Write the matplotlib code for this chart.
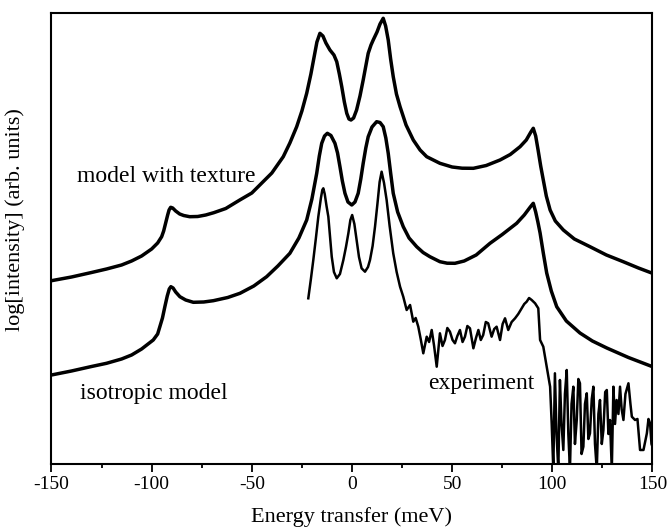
import matplotlib
matplotlib.use("Agg")
import matplotlib.pyplot as plt
from matplotlib.ticker import MultipleLocator

plt.rcParams['font.family'] = ['Liberation Serif', 'DejaVu Serif']

# ---- data (energy in meV, log intensity in arbitrary units) ----
tex_E = [-150, -140, -130, -122.5, -115, -110, -105, -100, -97, -95, -94, -93, -92, -91.3,
         -90.5, -89.5, -88, -86, -84, -81, -77, -73, -69, -63, -56, -50, -46, -40, -34.3,
         -31, -27.6, -25, -22.6, -20.5, -19, -17.5, -16, -14.5, -13, -11, -9, -7.6, -6.3,
         -5.1, -3.8, -2.6, -1.5, -0.5, 0.8, 2.3, 4, 5.6, 7, 8.1, 9.5, 10.6, 12.5, 14, 15.6,
         16.8, 18.1, 19.3, 20.6, 22.2, 24, 27, 30.6, 34, 37.3, 43.9, 50, 55, 60.6, 67, 73.9,
         79, 83.9, 87, 89.3, 90.5, 91.7, 92.9, 94.2, 95.5, 97, 98.9, 101.5, 105.5, 111,
         118.8, 127, 135.4, 143, 150]
tex_I = [183.3, 187, 191.5, 195, 199, 203, 208, 215, 221, 227.3, 233, 241, 249, 254,
         256.7, 256, 253, 250, 248.5, 247.3, 247.5, 249, 251.3, 255.5, 264, 271, 279, 291, 307.3,
         321, 337.3, 353, 370.7, 390, 406, 422, 430.7, 428, 421, 414, 409, 402.3, 390,
         377.3, 362, 350.7, 345, 344, 346, 354, 368, 384, 399, 410.7, 419, 424, 432, 440, 445.7,
         438, 424, 405, 387.3, 370, 357.3, 339, 324, 314, 307.3, 300.7, 297, 295.8, 295.7, 298.5, 304,
         309.5, 317.3, 324, 332, 335.7, 328, 314, 298, 284, 268, 254, 243, 234, 225,
         217.3, 209, 202.3, 196, 190.7]

iso_E = [-150, -140, -130, -122.5, -115, -110, -105, -99.2, -97, -95.9, -94.6, -93.4, -92.2,
         -91.2, -90.4, -89.3, -88, -85.9, -83, -79.2, -74, -69.2, -62, -55.9, -49, -42.6, -37,
         -31, -26.5, -22.6, -20, -17.6, -16.3, -15.1, -13.7, -12.3, -10.5, -8.5, -7.2, -6,
         -4.8, -3.5, -2, -0.1, 1.5, 3.1, 4.4, 5.6, 6.9, 8.1, 10, 12.3, 14, 15.6, 16.9, 18.1,
         19.3, 20.6, 22.8, 25.6, 28.5, 32.3, 35.5, 38.9, 43.9, 47.5, 51.4, 56, 62, 68.9, 75,
         82.2, 86, 89, 90.5, 91.7, 92.8, 93.9, 95.5, 97.2, 99.5, 102.2, 107, 113.8, 120,
         127.2, 138, 150]
iso_I = [89, 93, 97.5, 100.7, 105, 109, 115, 124, 130, 137.3, 146, 157.3, 168,
         175, 177.3, 176, 172, 167.3, 164, 161.7, 162, 163.3, 166.5, 170.7, 178, 187.3, 198,
         210.7, 226, 244, 265, 290.7, 308, 320.7, 328, 330.7, 328.5, 320.7, 311, 297.3,
         283, 270.7, 262, 259, 262, 270.7, 285, 300.7, 316, 327.3, 337, 342.3, 341.5, 337.3, 326, 310.7,
         291, 270.7, 252, 237.3, 226, 217.3, 211.5, 207.3, 202.3, 200.8, 200.7, 203, 209, 220.7, 229.5,
         240.7, 249, 257, 260.7, 252, 242, 231, 211, 191, 173, 157.3, 143, 131, 123,
         116, 106.5, 97.3]

exp_E = [-21.8, -20.5, -19.3, -18, -16.8, -15.5, -14.8, -14.3, -13.6, -12.7, -11.8, -10.9,
         -10.1, -9, -7.6, -6, -4.3, -3, -1.8, -0.8, 0.1, 1.2, 2.3, 3.5, 4.8, 6.5, 8, 9, 10.3,
         11.5, 12.7, 13.8, 14.8, 16, 17.3, 18.8, 20.6, 22.3, 24, 25.6, 27.3, 29, 30.6, 31.8,
         33.1, 34.3, 35.6, 37.3, 38.5, 39.8, 41, 42.3, 43.9, 45.2, 46.4, 47.6, 48.9, 50.2,
         51.4, 52.6, 53.9, 55.2, 56.4, 57.6, 58.9, 60.6, 61.9, 63.1, 64.3, 65.5, 66.8, 68,
         69.7, 71, 72.2, 73.9, 75.2, 76.4, 78, 79.7, 81.4, 83, 84.7, 86, 87.2, 88.4, 89.7,
         91.4, 93, 93.9, 95.5, 97.2, 98.9, 99.7, 100.5, 101.3, 102.1, 103, 103.8, 104.6,
         105.5, 106.3, 107.2, 108, 108.8, 109.6, 110.5, 111.3, 112.2, 113, 113.8, 114.6,
         115.5, 116.3, 117.2, 118, 118.8, 119.7, 120.5, 121.3, 122.2, 123, 123.8, 124.7,
         125.5, 126.4, 127.2, 128, 128.8, 129.7, 130.5, 131.3, 132.1, 133, 133.8, 134.6,
         135.5, 136.5, 138, 139, 139.7, 141.3, 142.5, 143.8, 145.5, 147.2, 148, 148.8, 149.5,
         150]
exp_I = [165.7, 185, 204, 226, 247.3, 266, 274, 275.7, 270, 258, 247.3, 226,
         207.3, 192, 185.7, 190, 204, 217, 230.7, 244, 249, 240, 224, 207, 195.7, 192.3, 197, 204, 218,
         237.3, 260, 282, 292.3, 281, 264, 238, 210.7, 192, 177.3, 167.3, 154, 159, 142.3, 146,
         137.3, 125, 110.7, 127.3, 122, 134, 118, 97.3, 130.7, 118, 124, 136, 132.3, 124,
         120.7, 128, 134, 122, 127.3, 138, 135.7, 115.7, 126, 134, 124, 129, 142, 140.7,
         127.3, 135, 137.3, 124, 140, 145.7, 134, 142, 145.7, 150, 155.7, 160, 162.3, 166, 164,
         160.7, 155.7, 124, 117.3, 97.3, 77.3, 40, -6, 90.7, 30, -6, 84, 40,
         14, 70, 94, 30, -6, 60, 77.3, 20, 44, 85, 80.7, 10,
         17.3, 60, 70.7, 25, 30.7, 65, 77.3, 20, -6, 50, 64, 20,
         34, 72, 74, 30, 44, -6, 77.3, 40, 64, 50, 77.3, 55,
         44, 70, 80.7, 60, 47.3, 44, 45, 14, 14, 30.7, 45, 40.7, 20,
         17.3]

xticks = [-150, -100, -50, 0, 50, 100, 150]
xticklabels = ['-150', '-100', '-50', '0', '50', '100', '150']

fig = plt.figure(figsize=(6.71, 5.31), dpi=100)
ax = fig.add_axes([0.0767, 0.1262, 0.8957, 0.8493])

ax.plot(tex_E, tex_I, color='black', lw=2.5, solid_joinstyle='round')
ax.plot(iso_E, iso_I, color='black', lw=2.5, solid_joinstyle='round')
ax.plot(exp_E, exp_I, color='black', lw=1.8, solid_joinstyle='round')

ax.set_xlim(-150, 150)
ax.set_ylim(0, 451)
ax.set_xticks(xticks)
ax.set_xticklabels(xticklabels)
ax.xaxis.set_minor_locator(MultipleLocator(25))
ax.set_yticks([])
ax.tick_params(axis='x', which='major', direction='out', length=6, width=1.3,
               labelsize=14, pad=3)
ax.tick_params(axis='x', which='minor', direction='out', length=3, width=1.3)
ax.tick_params(top=False, right=False)
for s in ax.spines.values():
    s.set_linewidth(1.5)

ax.set_xlabel('Energy transfer (meV)', fontsize=16, labelpad=10)
ax.set_ylabel('log[intensity] (arb. units)', fontsize=16)
ax.yaxis.set_label_coords(-0.044, 0.541)

ax.text(-137.5, 282, 'model with texture', fontsize=17, ha='left', va='baseline')
ax.text(-136, 65, 'isotropic model', fontsize=17, ha='left', va='baseline')
ax.text(38.1, 75, 'experiment', fontsize=17, ha='left', va='baseline')

fig.savefig('out.png', dpi=100)
